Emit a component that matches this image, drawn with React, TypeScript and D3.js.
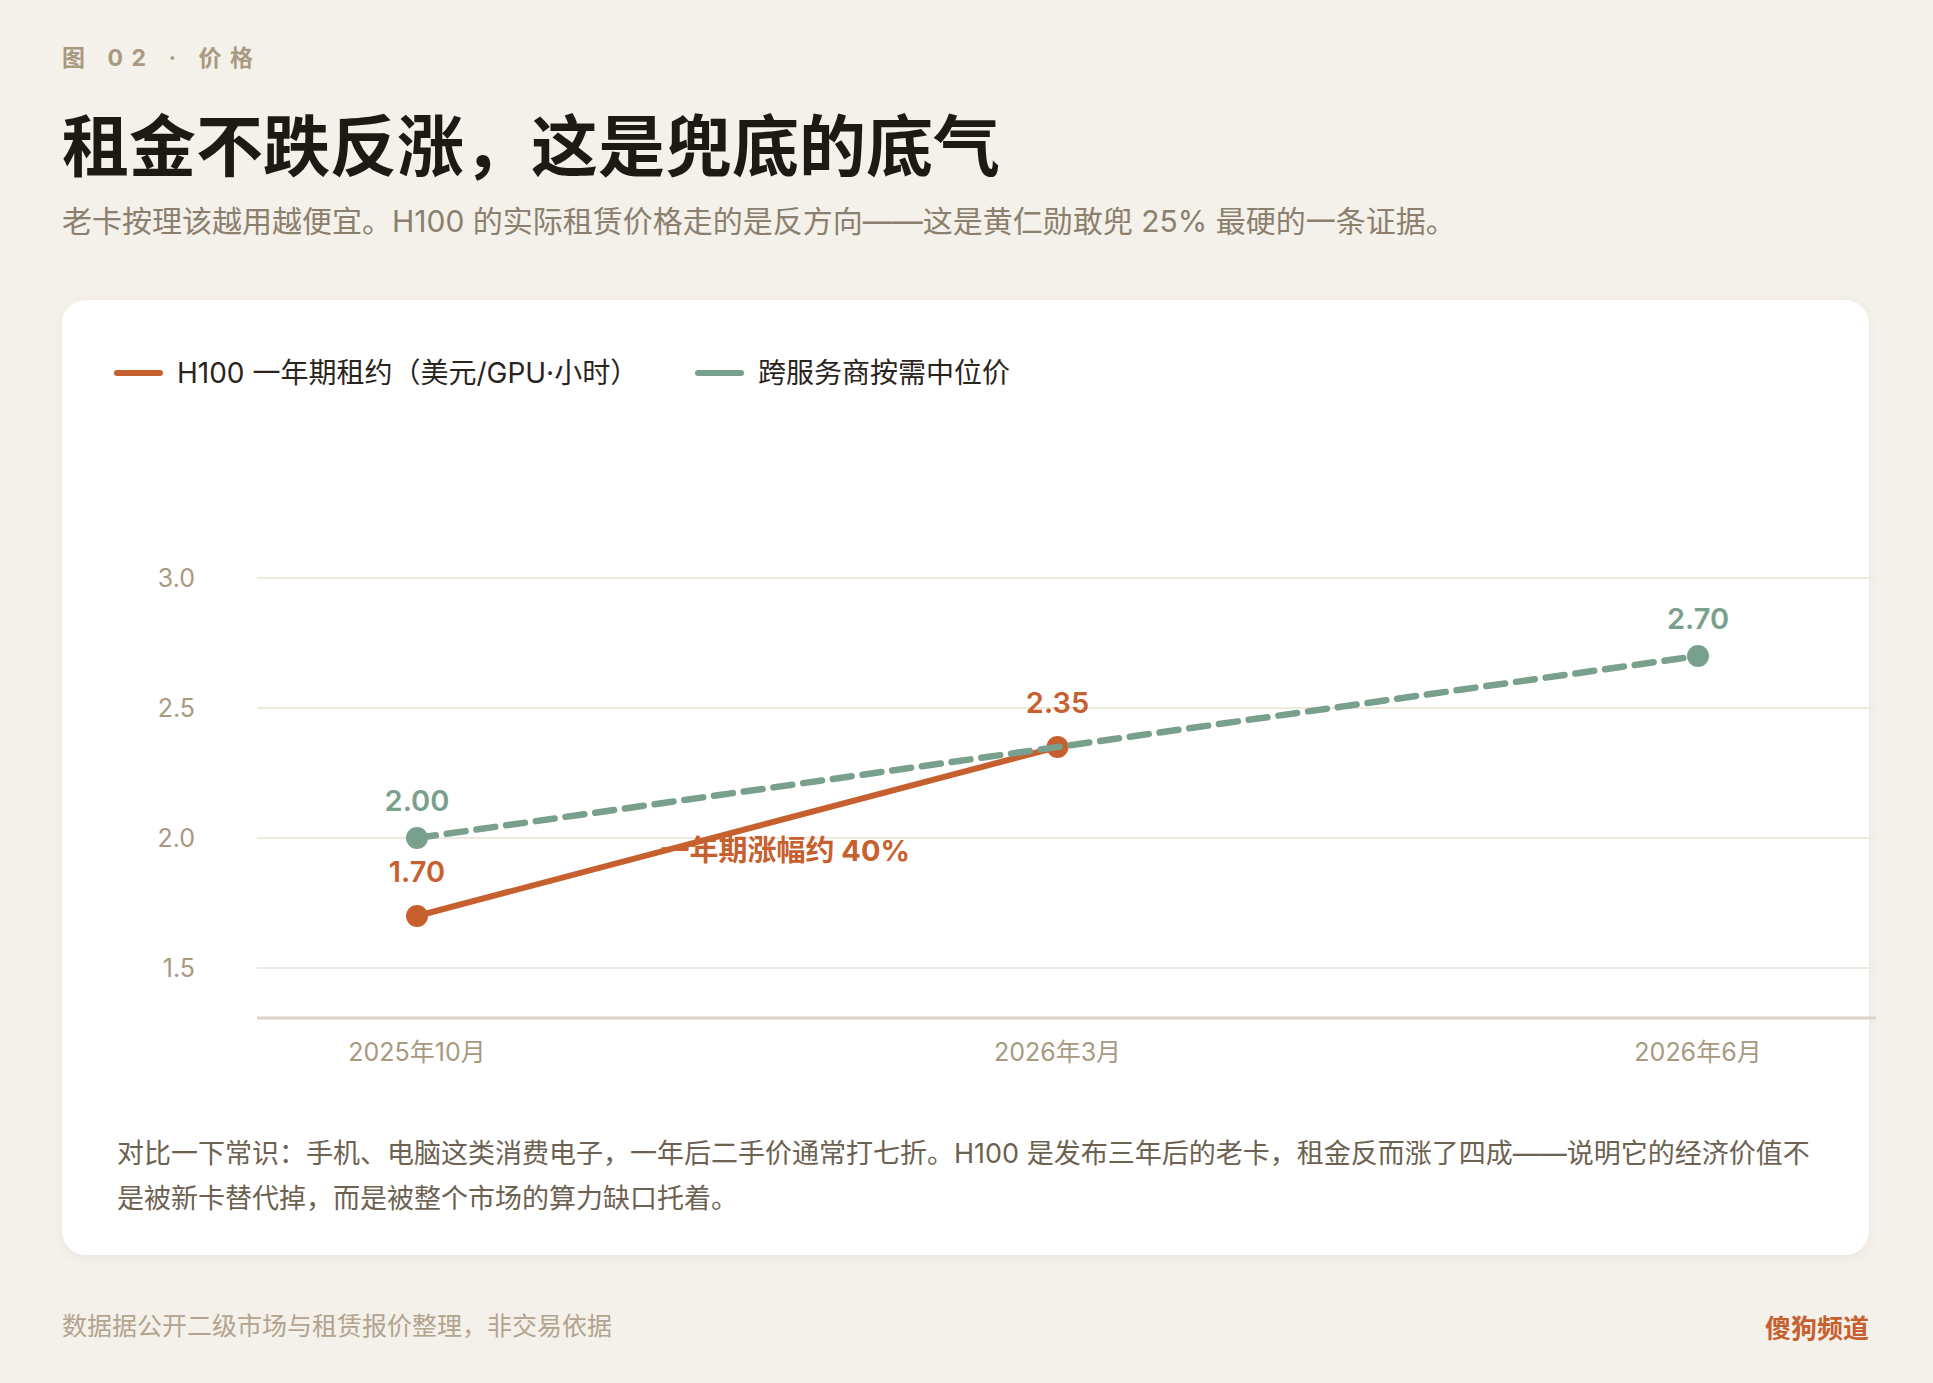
import { useEffect } from 'react';
import * as d3 from 'd3';

// ─── Data ────────────────────────────────────────────────
const months = ['2025年10月', '2026年3月', '2026年6月'];
const leaseValues = [1.7, 2.35]; // H100 一年期租约
const medianValues = [2.0, 2.35, 2.7]; // 跨服务商按需中位价
const yTicks = [1.5, 2.0, 2.5, 3.0];
const legendItems = ['H100 一年期租约（美元/GPU·小时）', '跨服务商按需中位价'];
const noteLines = [
  '对比一下常识：手机、电脑这类消费电子，一年后二手价通常打七折。H100 是发布三年后的老卡，租金反而涨了四成——说明它的经济价值不',
  '是被新卡替代掉，而是被整个市场的算力缺口托着。',
];

const W = 1933;
const H = 1383;
const ORANGE = '#c6602e';
const GREEN = '#79a08d';
const MUTED = '#a8997f';
const FONT = "Inter, 'Noto Sans CJK SC', sans-serif";
const CJK = "'Noto Sans CJK SC', sans-serif";

export default function App() {
  useEffect(() => {
    document.body.style.margin = '0';
    document.body.style.overflow = 'hidden';
  }, []);

  // ─── Scales ────────────────────────────────────────────
  const x = d3.scalePoint<string>().domain(months).range([417, 1698]);
  const y = d3.scaleLinear().domain([1.5, 3.0]).range([968, 578]);
  const gridLeft = 257;
  const gridRight = 1876;
  const baseY = y(1.5) + 50;

  const line = d3
    .line<number>()
    .x((_, i) => x(months[i]) as number)
    .y((d) => y(d));

  const midX = ((x(months[0]) as number) + (x(months[1]) as number)) / 2;

  return (
    <div style={{ position: 'absolute', left: 0, top: 0, width: W, height: H }}>
      <svg width={W} height={H} style={{ display: 'block' }}>
        <defs>
          <filter id="card-shadow" x="-5%" y="-5%" width="110%" height="115%">
            <feDropShadow dx="0" dy="3" stdDeviation="5" floodColor="#8a7a60" floodOpacity="0.08" />
          </filter>
        </defs>

        <rect width={W} height={H} fill="#f4f0ea" />

        {/* ─── Header ─── */}
        <text x={62} y={58} dominantBaseline="central" fontFamily={FONT} fontSize={23}
          fontWeight={700} letterSpacing={8.5} fill={MUTED}>
          图 02 · 价格
        </text>
        <text x={62} y={141} dominantBaseline="central" fontFamily={CJK} fontSize={67}
          fontWeight={700} fill="#1d1914">
          租金不跌反涨，这是兜底的底气
        </text>
        <text x={62} y={221} dominantBaseline="central" fontFamily={FONT} fontSize={30}
          fill="#8b7f6d">
          老卡按理该越用越便宜。H100 的实际租赁价格走的是反方向——这是黄仁勋敢兜 25% 最硬的一条证据。
        </text>

        {/* ─── Card ─── */}
        <rect x={62} y={300} width={1807} height={955} rx={24} fill="#ffffff" filter="url(#card-shadow)" />

        {/* ─── Legend ─── */}
        {legendItems.map((label, i) => {
          const lx = i === 0 ? 117 : 698;
          return (
            <g key={label}>
              <line x1={lx} x2={lx + 43} y1={373} y2={373} stroke={i === 0 ? ORANGE : GREEN}
                strokeWidth={6} strokeLinecap="round" />
              <text x={lx + 60} y={373} dominantBaseline="central" fontFamily={FONT} fontSize={28}
                fill="#2a241d">
                {label}
              </text>
            </g>
          );
        })}

        {/* ─── Grid + y ticks ─── */}
        {yTicks.map((t) => (
          <g key={t}>
            <line x1={gridLeft} x2={gridRight} y1={y(t)} y2={y(t)} stroke="#efe9df" strokeWidth={2} />
            <text x={195} y={y(t)} textAnchor="end" dominantBaseline="central" fontFamily={FONT}
              fontSize={25} fill={MUTED}>
              {t.toFixed(1)}
            </text>
          </g>
        ))}
        <line x1={gridLeft} x2={gridRight} y1={baseY} y2={baseY} stroke="#dcd4c6" strokeWidth={3} />

        {/* ─── X labels ─── */}
        {months.map((m) => (
          <text key={m} x={x(m)} y={1052} textAnchor="middle" dominantBaseline="central"
            fontFamily={FONT} fontSize={25} fill={MUTED}>
            {m}
          </text>
        ))}

        {/* ─── Annotation (under the line) ─── */}
        <text x={midX + 48} y={y(2.0) + 12} textAnchor="middle" dominantBaseline="central"
          fontFamily={FONT} fontSize={29} fontWeight={700} fill={ORANGE}>
          一年期涨幅约 40%
        </text>

        {/* ─── H100 lease series ─── */}
        <path d={line(leaseValues) ?? ''} fill="none" stroke={ORANGE} strokeWidth={6}
          strokeLinejoin="round" />
        {leaseValues.map((v, i) => (
          <g key={'l' + i}>
            <circle cx={x(months[i])} cy={y(v)} r={11} fill={ORANGE} />
            <text x={x(months[i])} y={y(v) - 34} textAnchor="middle" fontFamily={FONT}
              fontSize={29} fontWeight={600} fill={ORANGE}>
              {v.toFixed(2)}
            </text>
          </g>
        ))}

        {/* ─── Median on-demand series ─── */}
        <path d={line(medianValues) ?? ''} fill="none" stroke={GREEN} strokeWidth={6.5}
          strokeDasharray="19 11" strokeLinecap="round" />
        {medianValues.map((v, i) =>
          leaseValues[i] === v ? null : (
            <g key={'m' + i}>
              <circle cx={x(months[i])} cy={y(v)} r={11} fill={GREEN} />
              <text x={x(months[i])} y={y(v) - 27} textAnchor="middle" fontFamily={FONT}
                fontSize={29} fontWeight={600} fill={GREEN}>
                {v.toFixed(2)}
              </text>
            </g>
          )
        )}

        {/* ─── Note ─── */}
        {noteLines.map((t, i) => (
          <text key={i} x={117} y={1153 + i * 45} dominantBaseline="central" fontFamily={FONT}
            fontSize={27} fill="#6d6251">
            {t}
          </text>
        ))}

        {/* ─── Footer ─── */}
        <text x={62} y={1326} dominantBaseline="central" fontFamily={FONT} fontSize={25} fill="#b2a48d">
          数据据公开二级市场与租赁报价整理，非交易依据
        </text>
        <text x={1869} y={1326} textAnchor="end" dominantBaseline="central" fontFamily={CJK}
          fontSize={26} fontWeight={700} fill={ORANGE}>
          傻狗频道
        </text>
      </svg>
    </div>
  );
}
